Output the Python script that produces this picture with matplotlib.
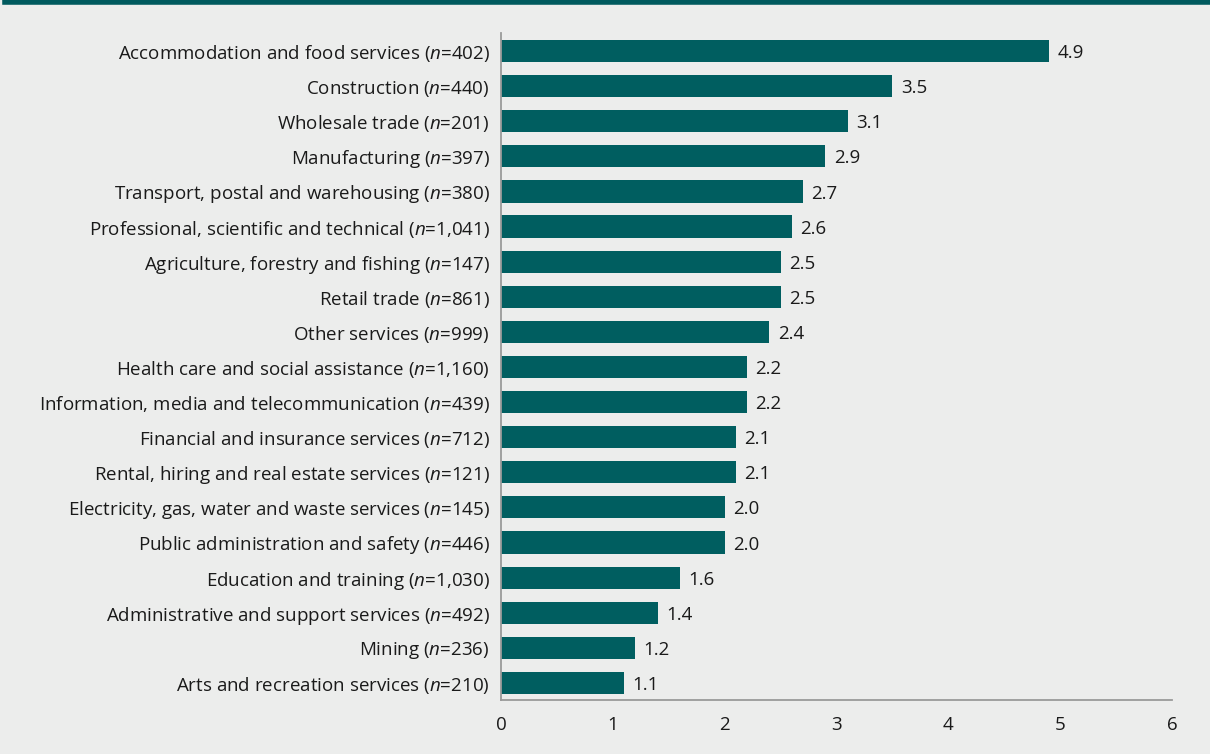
import numpy as np
import matplotlib
matplotlib.use('Agg')
import matplotlib.pyplot as plt

plt.rcParams['font.family'] = ['Open Sans', 'DejaVu Sans']
plt.rcParams['mathtext.fontset'] = 'custom'
plt.rcParams['mathtext.rm'] = 'Open Sans'
plt.rcParams['mathtext.it'] = 'Open Sans:italic'

# Daten
branchen = ['Accommodation and food services', 'Construction', 'Wholesale trade',
            'Manufacturing', 'Transport, postal and warehousing',
            'Professional, scientific and technical', 'Agriculture, forestry and fishing',
            'Retail trade', 'Other services', 'Health care and social assistance',
            'Information, media and telecommunication', 'Financial and insurance services',
            'Rental, hiring and real estate services',
            'Electricity, gas, water and waste services',
            'Public administration and safety', 'Education and training',
            'Administrative and support services', 'Mining', 'Arts and recreation services']
n_werte = ['402', '440', '201', '397', '380', '1,041', '147', '861', '999', '1,160',
           '439', '712', '121', '145', '446', '1,030', '492', '236', '210']
werte = [4.9, 3.5, 3.1, 2.9, 2.7, 2.6, 2.5, 2.5, 2.4, 2.2, 2.2, 2.1, 2.1, 2.0, 2.0,
         1.6, 1.4, 1.2, 1.1]
xticks = [0, 1, 2, 3, 4, 5, 6]

bg = '#ecedec'
teal = '#005e60'
fs = 13.5

fig = plt.figure(figsize=(12.1, 7.54), dpi=100, facecolor=bg)
ax = fig.add_axes([0.414, 0.071, 0.5546, 0.8846])
ax.set_facecolor(bg)

y = np.arange(len(werte))
ax.barh(y, werte, height=0.63, color=teal)
for yi, w in zip(y, werte):
    ax.text(w + 0.075, yi + 0.06, '%.1f' % w, va='center', ha='left', fontsize=fs,
            color='#1a1a1a')

labels = [b + r' ($\it{n}$=' + n + ')' for b, n in zip(branchen, n_werte)]
ax.set_yticks(y)
ax.set_yticklabels(labels, fontsize=fs, color='#1a1a1a')
ax.set_ylim(len(werte) - 0.5, -0.5)
ax.set_xlim(0, 6)
ax.set_xticks(xticks)
ax.set_xticklabels([str(t) for t in xticks], fontsize=fs, color='#1a1a1a')
ax.tick_params(length=0)
ax.tick_params(axis='x', pad=11)
ax.tick_params(axis='y', pad=8)
for s in ['top', 'right']:
    ax.spines[s].set_visible(False)
for s in ['left', 'bottom']:
    ax.spines[s].set_color('#9a9a9a')
    ax.spines[s].set_linewidth(1.3)

# Linie oben
fig.add_artist(plt.Line2D([0.004, 1], [0.998, 0.998], color='#005a5e', lw=4,
                          transform=fig.transFigure))

plt.savefig('out.png', dpi=100, facecolor=bg)
